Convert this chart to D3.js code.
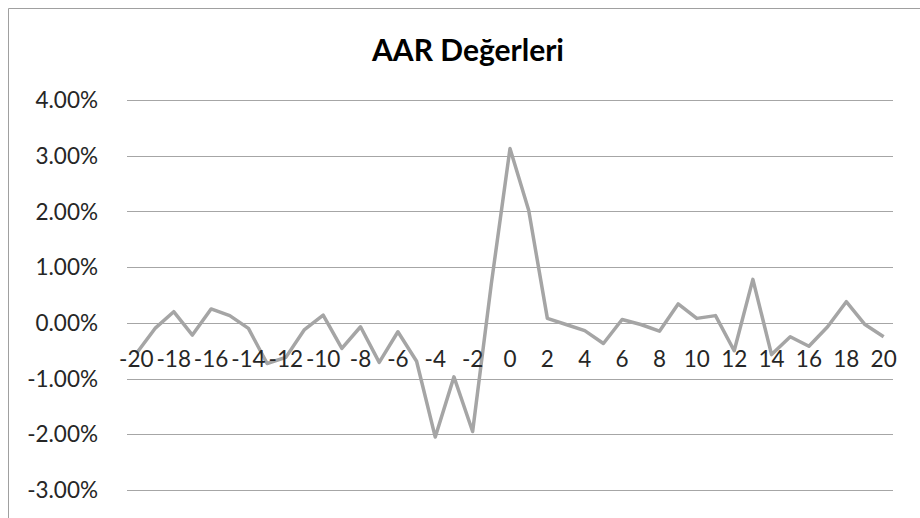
<!DOCTYPE html>
<html>
<head>
<meta charset="utf-8">
<script src="https://cdn.jsdelivr.net/npm/d3@7"></script>
<style>
  html, body { margin: 0; padding: 0; background: #fff; }
  svg { display: block; }
</style>
</head>
<body>
<div id="chart"></div>
<script>
const days = d3.range(-20, 21);
const aar = [
  -0.55, -0.10, 0.20, -0.22, 0.25, 0.13, -0.10, -0.73, -0.62, -0.12,
   0.14, -0.46, -0.07, -0.71, -0.16, -0.69, -2.05, -0.97, -1.95, 0.70,
   3.13, 2.02, 0.08, -0.03, -0.14, -0.37, 0.06, -0.03, -0.15, 0.34,
   0.08, 0.13, -0.50, 0.78, -0.57, -0.25, -0.42, -0.07, 0.38, -0.03,
  -0.25
];
const yTicks = [-3, -2, -1, 0, 1, 2, 3, 4];
const xTickLabels = d3.range(-20, 21, 2);
const title = "AAR Değerleri";

const W = 920, H = 518;
const svg = d3.select("#chart").append("svg").attr("width", W).attr("height", H);

const x = d3.scaleBand().domain(days).range([127, 893]);
const y = d3.scaleLinear().domain([-4, 4]).range([545.7, 100]);
const font = "Lato, 'Open Sans', sans-serif";
const fmt = d3.formatLocale({decimal: ".", thousands: ",", grouping: [3], currency: ["", ""], minus: "-"}).format(".2f");

// chart border (cropped at right/bottom)
svg.append("path")
  .attr("d", "M8.5,518 V8.5 H920")
  .attr("fill", "none").attr("stroke", "#a0a0a0").attr("stroke-width", 1);

// title
svg.append("text")
  .attr("x", 468).attr("y", 61)
  .attr("text-anchor", "middle")
  .attr("font-family", font).attr("font-weight", "bold")
  .attr("font-size", 30).attr("fill", "#000")
  .text(title);

// gridlines
svg.append("g").selectAll("line").data(yTicks).join("line")
  .attr("x1", x.range()[0]).attr("x2", x.range()[1])
  .attr("y1", d => Math.round(y(d)) + 0.5).attr("y2", d => Math.round(y(d)) + 0.5)
  .attr("stroke", "#a6a6a6").attr("stroke-width", 1);

// y labels
svg.append("g").selectAll("text").data(yTicks).join("text")
  .attr("x", 98).attr("y", d => y(d))
  .attr("dy", "0.36em")
  .attr("text-anchor", "end")
  .attr("font-family", font).attr("font-size", 22.5).attr("fill", "#262626")
  .text(d => fmt(d) + "%");

// line
const line = d3.line()
  .x((d, i) => x(days[i]) + x.bandwidth() / 2)
  .y(d => y(d));
svg.append("path")
  .datum(aar)
  .attr("d", line)
  .attr("fill", "none")
  .attr("stroke", "#a5a5a5")
  .attr("stroke-width", 3.5)
  .attr("stroke-linejoin", "round");

// x labels
svg.append("g").selectAll("text").data(xTickLabels).join("text")
  .attr("x", d => x(d) + x.bandwidth() / 2)
  .attr("y", y(0) + 36)
  .attr("dy", "0.36em")
  .attr("text-anchor", "middle")
  .attr("font-family", font).attr("font-size", 22.5).attr("fill", "#262626")
  .text(d => d);
</script>
</body>
</html>
